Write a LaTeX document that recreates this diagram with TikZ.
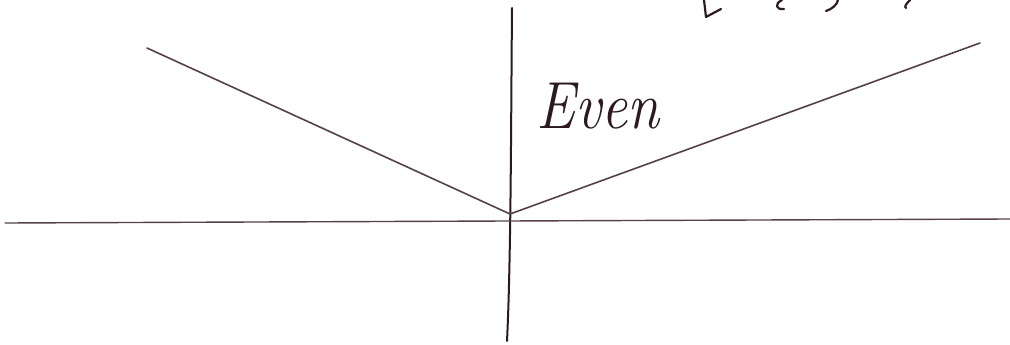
\documentclass[tikz,border=0pt]{standalone}
\definecolor{ink}{RGB}{45,25,35}
\definecolor{pencil}{RGB}{85,65,75}
\begin{document}
\begin{tikzpicture}[x=1pt,y=-1pt,
  axis/.style={draw=ink,line width=2pt,line cap=round},
  graph/.style={draw=pencil,line width=1.6pt,line cap=round},
  frag/.style={draw=ink,line width=2.2pt,line cap=round,line join=round}]
\useasboundingbox (0,0) rectangle (1010,345);
\fill[white] (0,0) rectangle (1010,345);
% axes
\coordinate (xl) at (5,223);
\coordinate (xr) at (1010,219);
\coordinate (yt) at (512,8);
\coordinate (yb) at (507,341);
\coordinate (o) at (510,214);
\coordinate (gl) at (147,48);
\coordinate (gr) at (980,43);
\draw[axis] (yt) .. controls (511,120) and (511,260) .. (yb);
\draw[axis,line width=1.4pt,draw=pencil] (xl) -- (xr);
% V graph
\draw[graph] (gl) -- (o) -- (gr);
% label
\node[ink,font=\fontsize{58}{58}\selectfont\itshape,yscale=1.15] (even) at (598,106) {Even};
% cut-off text fragments at top
\draw[frag] (704,0) -- (706,17) -- (721,9);
\draw[frag] (782,0) .. controls (774,4) and (776,10) .. (784,9);
\draw[frag] (838,0) .. controls (837,5) and (832,9) .. (826,11);
\draw[frag] (910,0) .. controls (906,4) and (904,7) .. (906,8);
\end{tikzpicture}
\end{document}
